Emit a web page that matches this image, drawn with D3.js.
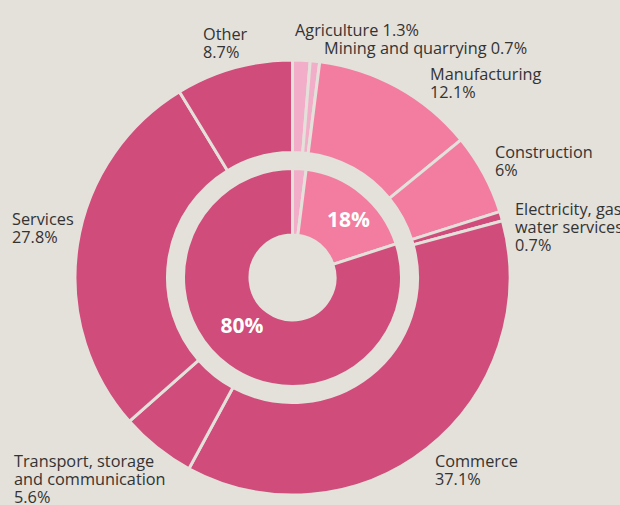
<!DOCTYPE html>
<html>
<head>
<meta charset="utf-8">
<script src="https://cdn.jsdelivr.net/npm/d3@7"></script>
<style>
  html, body { margin: 0; padding: 0; background: #e4e0da; overflow: hidden; }
  svg { display: block; }
  text { font-family: "Open Sans", "Noto Sans", sans-serif; }
</style>
</head>
<body>
<svg id="chart" width="620" height="505"></svg>
<script>
// Outer ring: employment by sector (%)
const sectors = ["Agriculture", "Mining and quarrying", "Manufacturing", "Construction",
  "Electricity, gas, water services", "Commerce", "Transport, storage and communication",
  "Services", "Other"];
const sectorShares = [1.3, 0.7, 12.1, 6, 0.7, 37.1, 5.6, 27.8, 8.7];

// Inner ring: broad groups (%)
const groups = ["agri", "industry", "services"];
const groupShares = [2, 18, 80];
const groupLabels = ["", "18%", "80%"];

// Label text lines per outer sector
const sectorLabelLines = [
  ["Agriculture 1.3%"],
  ["Mining and quarrying 0.7%"],
  ["Manufacturing", "12.1%"],
  ["Construction", "6%"],
  ["Electricity, gas", "water services", "0.7%"],
  ["Commerce", "37.1%"],
  ["Transport, storage", "and communication", "5.6%"],
  ["Services", "27.8%"],
  ["Other", "8.7%"]
];

const bg = "#e4e0da";
const colour = d3.scaleOrdinal()
  .domain(groups)
  .range(["#f2aec8", "#f27da1", "#cf4c7b"]);
const sectorColour = ["#f2aec8", "#f2aec8", "#f27da1", "#f27da1", "#cf4c7b",
  "#cf4c7b", "#cf4c7b", "#cf4c7b", "#cf4c7b"];

const svg = d3.select("#chart");
const cx = 292.5, cy = 277.5;
const g = svg.append("g").attr("transform", `translate(${cx},${cy})`);

const pie = d3.pie().sort(null).value(d => d);

const outerArc = d3.arc().innerRadius(125).outerRadius(217.5);
const innerArc = d3.arc().innerRadius(42.5).outerRadius(109);

// Outer ring
g.append("g").selectAll("path")
  .data(pie(sectorShares))
  .join("path")
  .attr("d", outerArc)
  .attr("fill", (d, i) => sectorColour[i])
  .attr("stroke", bg)
  .attr("stroke-width", 3);

// Inner ring
const innerSlices = pie(groupShares);
g.append("g").selectAll("path")
  .data(innerSlices)
  .join("path")
  .attr("d", innerArc)
  .attr("fill", (d, i) => colour(groups[i]))
  .attr("stroke", bg)
  .attr("stroke-width", 3);

// Inner percentage labels
const innerLabelPos = [null, [348.5, 227], [242, 333]];
svg.append("g").selectAll("text")
  .data(innerSlices.filter((d, i) => groupLabels[i]))
  .join("text")
  .attr("x", d => innerLabelPos[d.index][0])
  .attr("y", d => innerLabelPos[d.index][1])
  .attr("text-anchor", "middle")
  .attr("fill", "#ffffff")
  .attr("font-weight", "bold")
  .attr("font-size", 21)
  .text(d => groupLabels[d.index]);

// Outer sector labels (baseline of first line of each text block)
const labelPos = [
  [295, 36], [324, 54], [430, 80], [495, 158], [515, 215],
  [435, 467], [14, 467], [12, 225], [203, 40]
];
const lineH = 18;
const labels = svg.append("g").attr("fill", "#333333").attr("font-size", 16.3);
sectorLabelLines.forEach((lines, i) => {
  const t = labels.append("text")
    .attr("x", labelPos[i][0])
    .attr("y", labelPos[i][1]);
  lines.forEach((ln, j) => {
    t.append("tspan")
      .attr("x", labelPos[i][0])
      .attr("dy", j === 0 ? 0 : lineH)
      .text(ln);
  });
});
</script>
</body>
</html>
